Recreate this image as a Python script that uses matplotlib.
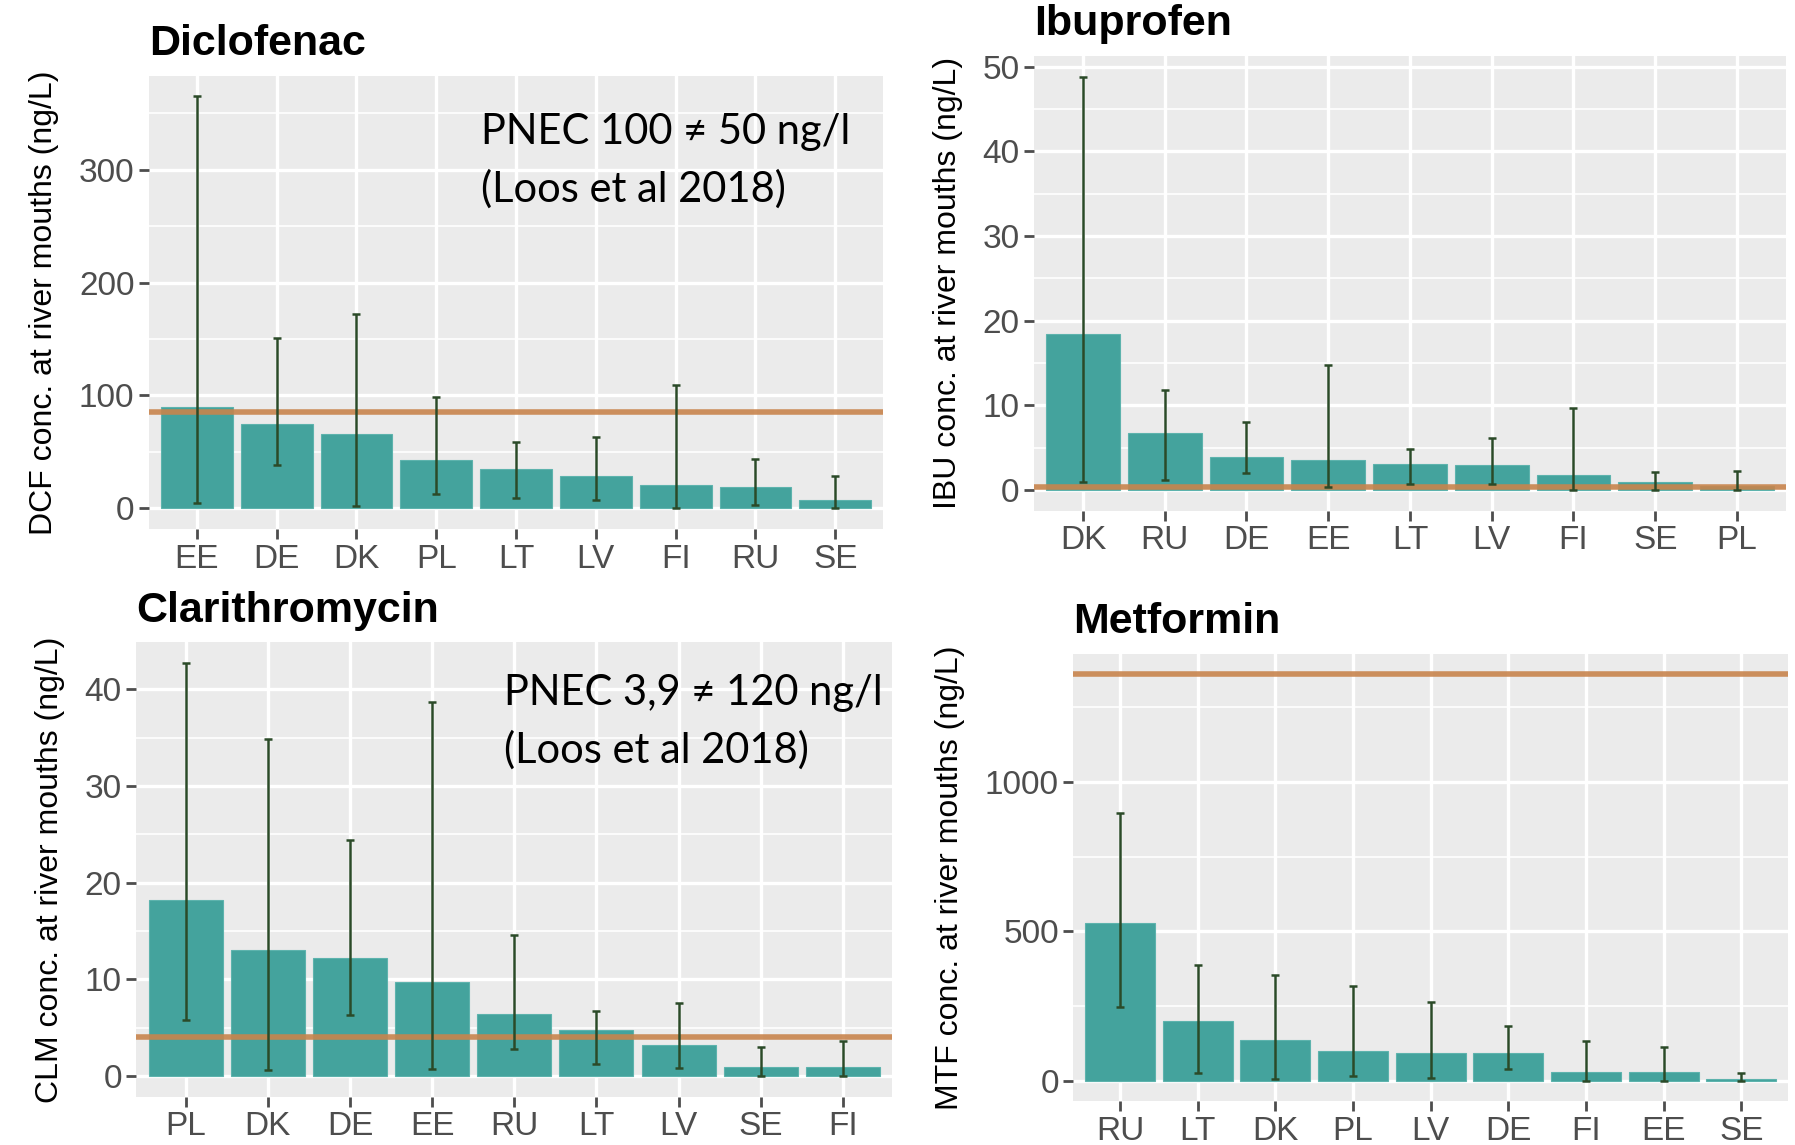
import matplotlib.pyplot as plt
import numpy as np

plt.rcParams['font.family'] = ['Liberation Sans', 'DejaVu Sans']

# 데이터
dcf_land = ['EE', 'DE', 'DK', 'PL', 'LT', 'LV', 'FI', 'RU', 'SE']
dcf_mean = [90, 75, 66, 43, 35, 29, 21, 19, 7.5]
dcf_lo = [5, 38, 2, 13, 9, 7, 0, 3, 0]
dcf_hi = [365, 151, 172, 99, 59, 63, 109, 44, 28.5]
dcf_pnec = 85

ibu_land = ['DK', 'RU', 'DE', 'EE', 'LT', 'LV', 'FI', 'SE', 'PL']
ibu_mean = [18.4, 6.7, 3.9, 3.6, 3.1, 2.9, 1.8, 0.9, 0.5]
ibu_lo = [1.0, 1.2, 2.0, 0.3, 0.7, 0.7, 0, 0, 0]
ibu_hi = [48.8, 11.8, 8.0, 14.8, 4.9, 6.1, 9.7, 2.1, 2.3]
ibu_pnec = 0.4

clm_land = ['PL', 'DK', 'DE', 'EE', 'RU', 'LT', 'LV', 'SE', 'FI']
clm_mean = [18.2, 13.0, 12.2, 9.7, 6.4, 4.8, 3.2, 1.0, 1.0]
clm_lo = [5.8, 0.6, 6.3, 0.7, 2.8, 1.25, 0.9, 0, 0]
clm_hi = [42.7, 34.8, 24.4, 38.7, 14.6, 6.7, 7.6, 3.0, 3.6]
clm_pnec = 4.1

mtf_land = ['RU', 'LT', 'DK', 'PL', 'LV', 'DE', 'FI', 'EE', 'SE']
mtf_mean = [527, 200, 137, 101, 94, 94, 30, 30, 8]
mtf_lo = [247, 26, 6, 18, 12, 42, 0, 0, 0]
mtf_hi = [894, 389, 354, 319, 263, 184, 135, 114, 27]
mtf_pnec = 1359

bar_farbe = '#44A39D'
err_farbe = '#2B4A28'
linie_farbe = '#C8844C'
tick_farbe = '#4D4D4D'

fig = plt.figure(figsize=(17.95, 11.45), dpi=100)


def panel(pos, titel, ylab, land, mean, lo, hi, pnec, yticks, minor):
    ax = fig.add_axes(pos)
    x = np.arange(len(land))
    mean = np.array(mean)
    lo = np.array(lo)
    hi = np.array(hi)
    ax.set_facecolor('#EBEBEB')
    # ggplot 처럼 5% 여유
    ymin = min(0, lo.min())
    ymax = max(hi.max(), pnec)
    d = (ymax - ymin) * 0.05
    ax.set_ylim(ymin - d, ymax + d)
    ax.set_xlim(-0.6, len(land) - 0.4)
    for m in minor:
        ax.axhline(m, color='white', lw=1.2, zorder=0)
    for t in yticks:
        ax.axhline(t, color='white', lw=2.4, zorder=0)
    for xi in x:
        ax.axvline(xi, color='white', lw=2.4, zorder=0)
    ax.bar(x, mean, width=0.9, color=bar_farbe, edgecolor='#5DB3AD', lw=0.8, zorder=2)
    ax.hlines(pnec, -0.6, len(land) - 0.4, color=linie_farbe, lw=4, alpha=0.9, zorder=3)
    ax.errorbar(x, mean, yerr=[mean - lo, hi - mean], fmt='none', ecolor=err_farbe,
                elinewidth=1.8, capsize=3, capthick=1.8, zorder=4)
    ax.set_yticks(yticks)
    ax.set_yticklabels([str(t) for t in yticks])
    ax.set_xticks(x)
    ax.set_xticklabels(land)
    ax.tick_params(colors=tick_farbe, labelcolor=tick_farbe, labelsize=24, length=7, width=2)
    for s in ax.spines.values():
        s.set_visible(False)
    ax.set_ylabel(ylab, fontsize=23, color='black', labelpad=14)
    ax.set_title(titel, loc='left', fontsize=31, fontweight='bold', color='black', pad=15)
    return ax


panel([0.083, 0.538, 0.409, 0.396], 'Diclofenac', 'DCF conc. at river mouths (ng/L)',
      dcf_land, dcf_mean, dcf_lo, dcf_hi, dcf_pnec, [0, 100, 200, 300], [50, 150, 250, 350])
panel([0.576, 0.554, 0.419, 0.397], 'Ibuprofen', 'IBU conc. at river mouths (ng/L)',
      ibu_land, ibu_mean, ibu_lo, ibu_hi, ibu_pnec, [0, 10, 20, 30, 40, 50], [5, 15, 25, 35, 45])
panel([0.076, 0.042, 0.421, 0.397], 'Clarithromycin', 'CLM conc. at river mouths (ng/L)',
      clm_land, clm_mean, clm_lo, clm_hi, clm_pnec, [0, 10, 20, 30, 40], [5, 15, 25, 35])
panel([0.598, 0.038, 0.398, 0.391], 'Metformin', 'MTF conc. at river mouths (ng/L)',
      mtf_land, mtf_mean, mtf_lo, mtf_hi, mtf_pnec, [0, 500, 1000], [250, 750, 1250])

# PNEC 텍스트
lato = ['Lato', 'DejaVu Sans']
fig.text(0.268, 0.885, 'PNEC 100 \u2260 50 ng/l', fontsize=30, family=lato, va='center')
fig.text(0.268, 0.835, '(Loos et al 2018)', fontsize=30, family=lato, va='center')
fig.text(0.281, 0.395, 'PNEC 3,9 \u2260 120 ng/l', fontsize=30, family=lato, va='center')
fig.text(0.281, 0.345, '(Loos et al 2018)', fontsize=30, family=lato, va='center')

fig.savefig('out.png', dpi=100)
